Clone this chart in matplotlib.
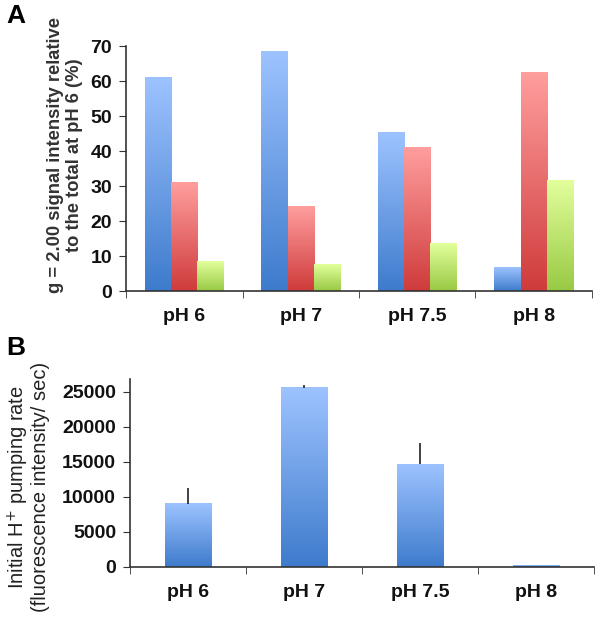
import numpy as np
import matplotlib
matplotlib.use("Agg")
import matplotlib.pyplot as plt
from matplotlib.colors import LinearSegmentedColormap

plt.rcParams['font.family'] = ['Liberation Sans', 'DejaVu Sans']

categories = ["pH 6", "pH 7", "pH 7.5", "pH 8"]
series_blue = [61.0, 68.5, 45.4, 6.6]
series_red = [30.9, 24.1, 41.1, 62.5]
series_green = [8.5, 7.6, 13.6, 31.6]

pumping_rate = [9060, 25620, 14640, 190]
pumping_err = [2200, 320, 3060, 0]

blue_cm = LinearSegmentedColormap.from_list("b", ["#3E7BCC", "#9DC3FF"])
red_cm = LinearSegmentedColormap.from_list("r", ["#CF3B3B", "#FF9E9E"])
green_cm = LinearSegmentedColormap.from_list("g", ["#98C943", "#E2FF9C"])

grad = np.linspace(0, 1, 256).reshape(-1, 1)


def gradient_bars(ax, xs, heights, width, cmap):
    bars = ax.bar(xs, heights, width=width, color='none', edgecolor='none', zorder=2)
    for b in bars:
        x0, y0 = b.get_x(), b.get_y()
        w, h = b.get_width(), b.get_height()
        ax.imshow(grad, extent=(x0, x0 + w, y0, y0 + h), origin='lower',
                  cmap=cmap, aspect='auto', zorder=2, interpolation='bicubic')
    return bars


fig = plt.figure(figsize=(6.01, 6.2), dpi=100)

# Panel A
axA = fig.add_axes([0.2097, 0.5306, 0.7753, 0.3952])
x = np.arange(len(categories))
w = 0.225
gradient_bars(axA, x - w, series_blue, w, blue_cm)
gradient_bars(axA, x, series_red, w, red_cm)
gradient_bars(axA, x + w, series_green, w, green_cm)
axA.set_xlim(-0.5, len(categories) - 0.5)
axA.set_ylim(0, 70)
axA.set_yticks(range(0, 71, 10))
axA.set_xticks(x)
axA.set_xticklabels(categories)
axA.set_xticks(np.arange(-0.5, len(categories), 1.0), minor=True)
axA.tick_params(axis='x', which='major', length=0, pad=12)
axA.tick_params(axis='x', which='minor', length=5, direction='out', color='#333333')
axA.tick_params(axis='y', length=5, direction='out', color='#333333', pad=5)
axA.set_ylabel("g = 2.00 signal intensity relative\nto the total at pH 6 (%)",
               fontsize=13.2, fontweight='bold', color='#333333',
               linespacing=1.15)
axA.yaxis.set_label_coords(-0.093, 0.555)

# Panel B
axB = fig.add_axes([0.2163, 0.0855, 0.7720, 0.3027])
xb = np.arange(len(categories))
wb = 0.40
gradient_bars(axB, xb, pumping_rate, wb, blue_cm)
axB.errorbar(xb, pumping_rate, yerr=[np.zeros(len(pumping_err)), pumping_err],
             fmt='none', ecolor='#222222', elinewidth=1.2, capsize=0, zorder=3)
axB.set_xlim(-0.5, len(categories) - 0.5)
axB.set_ylim(0, 26800)
axB.set_yticks(range(0, 25001, 5000))
axB.set_xticks(xb)
axB.set_xticklabels(categories)
axB.set_xticks(np.arange(-0.5, len(categories), 1.0), minor=True)
axB.tick_params(axis='x', which='major', length=0, pad=12)
axB.tick_params(axis='x', which='minor', length=5, direction='out', color='#333333')
axB.tick_params(axis='y', length=5, direction='out', color='#333333', pad=5)
axB.set_ylabel("Initial H$^{+}$ pumping rate\n(fluorescence intensity/ sec)",
               fontsize=14.5, color='#222222', linespacing=1.0)
axB.yaxis.set_label_coords(-0.172, 0.425)

for ax in (axA, axB):
    for s in ('top', 'right'):
        ax.spines[s].set_visible(False)
    for s in ('left', 'bottom'):
        ax.spines[s].set_color('#333333')
        ax.spines[s].set_linewidth(1.2)
    for lab in ax.get_xticklabels() + ax.get_yticklabels():
        lab.set_fontweight('bold')
        lab.set_fontsize(14)
        lab.set_color('#111111')

fig.text(0.010, 0.993, "A", fontsize=19, fontweight='bold', va='top', ha='left')
fig.text(0.010, 0.458, "B", fontsize=19, fontweight='bold', va='top', ha='left')

fig.savefig("out.png", dpi=100)
